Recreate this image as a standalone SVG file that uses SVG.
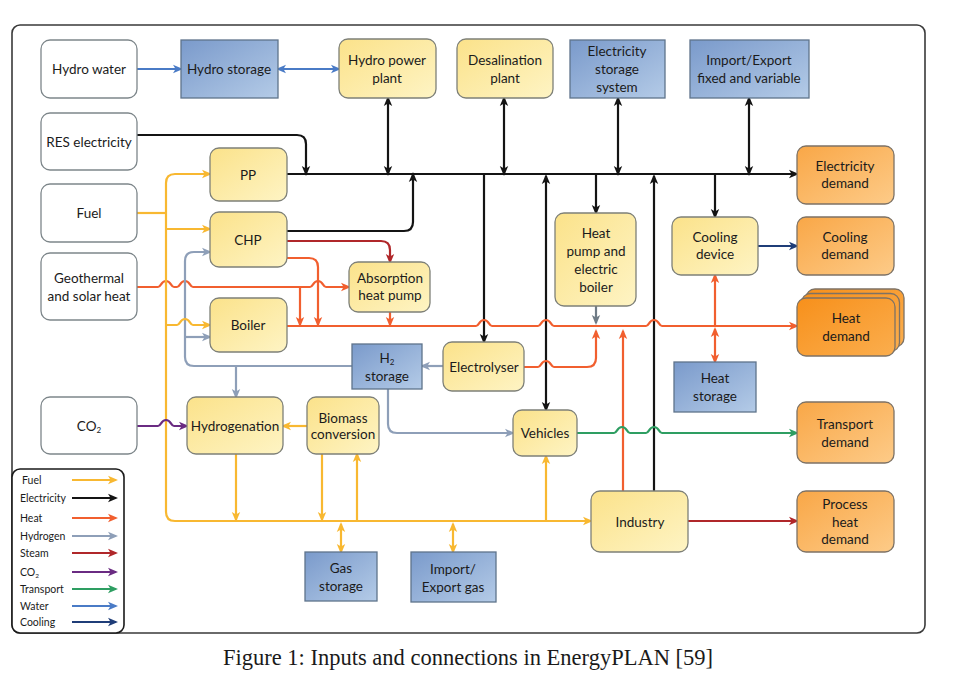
<svg xmlns="http://www.w3.org/2000/svg" width="957" height="680" viewBox="0 0 957 680">
<defs>
<style>
.n text, .lg text {font-family: Lato, "Open Sans", sans-serif; font-size: 13.5px; fill: #1b1b1b; text-anchor: middle;}
.w {fill: #fff; stroke: #7d868a; stroke-width: 1.3;}
.y {fill: url(#gy); stroke: #7e8078; stroke-width: 1.3;}
.b {fill: url(#gb); stroke: #5f738b; stroke-width: 1.3;}
.o {fill: url(#go); stroke: #7d7265; stroke-width: 1.3;}
.h {fill: url(#gh); stroke: #7d7265; stroke-width: 1.3;}
.c path {fill: none; stroke-width: 2.2; stroke-linejoin: round;}
.fu {stroke: #F8B831;}
.el {stroke: #141414;}
.he {stroke: #F15F2F;}
.hy {stroke: #8E9FB8;}
.st {stroke: #B0272A;}
.co {stroke: #6A2B82;}
.tr {stroke: #2E9E62;}
.wa {stroke: #4A7BC6;}
.cl {stroke: #1F3D78;}
.gr {stroke: #6F7B86;}
.lg text {font-size: 10.5px; text-anchor: start;}
</style>
<linearGradient id="gy" x1="0" y1="0" x2="1" y2="1"><stop offset="0" stop-color="#FBE28A"/><stop offset="1" stop-color="#FEF4C4"/></linearGradient>
<linearGradient id="gb" x1="0" y1="0" x2="1" y2="1"><stop offset="0" stop-color="#7A9ACB"/><stop offset="1" stop-color="#B4CBE7"/></linearGradient>
<linearGradient id="go" x1="0" y1="0" x2="1" y2="1"><stop offset="0" stop-color="#F9A747"/><stop offset="1" stop-color="#FDCB88"/></linearGradient>
<linearGradient id="gh" x1="0" y1="0" x2="1" y2="1"><stop offset="0" stop-color="#F7901B"/><stop offset="1" stop-color="#FBAE4E"/></linearGradient>
<marker id="mfu" viewBox="0 0 10 10" refX="8" refY="5" markerWidth="10" markerHeight="10" markerUnits="userSpaceOnUse" orient="auto-start-reverse"><path d="M0,0.8 L10,5 L0,9.2 L2.6,5 Z" fill="#F8B831"/></marker>
<marker id="mel" viewBox="0 0 10 10" refX="8" refY="5" markerWidth="10" markerHeight="10" markerUnits="userSpaceOnUse" orient="auto-start-reverse"><path d="M0,0.8 L10,5 L0,9.2 L2.6,5 Z" fill="#141414"/></marker>
<marker id="mhe" viewBox="0 0 10 10" refX="8" refY="5" markerWidth="10" markerHeight="10" markerUnits="userSpaceOnUse" orient="auto-start-reverse"><path d="M0,0.8 L10,5 L0,9.2 L2.6,5 Z" fill="#F15F2F"/></marker>
<marker id="mhy" viewBox="0 0 10 10" refX="8" refY="5" markerWidth="10" markerHeight="10" markerUnits="userSpaceOnUse" orient="auto-start-reverse"><path d="M0,0.8 L10,5 L0,9.2 L2.6,5 Z" fill="#8E9FB8"/></marker>
<marker id="mst" viewBox="0 0 10 10" refX="8" refY="5" markerWidth="10" markerHeight="10" markerUnits="userSpaceOnUse" orient="auto-start-reverse"><path d="M0,0.8 L10,5 L0,9.2 L2.6,5 Z" fill="#B0272A"/></marker>
<marker id="mco" viewBox="0 0 10 10" refX="8" refY="5" markerWidth="10" markerHeight="10" markerUnits="userSpaceOnUse" orient="auto-start-reverse"><path d="M0,0.8 L10,5 L0,9.2 L2.6,5 Z" fill="#6A2B82"/></marker>
<marker id="mtr" viewBox="0 0 10 10" refX="8" refY="5" markerWidth="10" markerHeight="10" markerUnits="userSpaceOnUse" orient="auto-start-reverse"><path d="M0,0.8 L10,5 L0,9.2 L2.6,5 Z" fill="#2E9E62"/></marker>
<marker id="mwa" viewBox="0 0 10 10" refX="8" refY="5" markerWidth="10" markerHeight="10" markerUnits="userSpaceOnUse" orient="auto-start-reverse"><path d="M0,0.8 L10,5 L0,9.2 L2.6,5 Z" fill="#4A7BC6"/></marker>
<marker id="mcl" viewBox="0 0 10 10" refX="8" refY="5" markerWidth="10" markerHeight="10" markerUnits="userSpaceOnUse" orient="auto-start-reverse"><path d="M0,0.8 L10,5 L0,9.2 L2.6,5 Z" fill="#1F3D78"/></marker>
<marker id="mgr" viewBox="0 0 10 10" refX="8" refY="5" markerWidth="10" markerHeight="10" markerUnits="userSpaceOnUse" orient="auto-start-reverse"><path d="M0,0.8 L10,5 L0,9.2 L2.6,5 Z" fill="#6F7B86"/></marker>
</defs>
<rect width="957" height="680" fill="#fff"/>
<rect id="frame" x="12" y="25" width="913" height="608" rx="8" fill="none" stroke="#3a3a3a" stroke-width="1.6"/>

<g id="connectors" class="c">
<!-- water -->
<path class="wa" d="M137,69 H181" marker-end="url(#mwa)"/>
<path class="wa" d="M278,69 H339" marker-start="url(#mwa)" marker-end="url(#mwa)"/>
<!-- electricity -->
<path class="el" d="M287,174 H797" marker-end="url(#mel)"/>
<path class="el" d="M137,135 H297 Q306,135 306,144 V174" marker-end="url(#mel)"/>
<path class="el" d="M287,231 H404 Q413,231 413,222 V174" marker-end="url(#mel)"/>
<path class="el" d="M388,98 V174" marker-start="url(#mel)" marker-end="url(#mel)"/>
<path class="el" d="M504,98 V174" marker-start="url(#mel)" marker-end="url(#mel)"/>
<path class="el" d="M618,98 V174" marker-start="url(#mel)" marker-end="url(#mel)"/>
<path class="el" d="M749,98 V174" marker-start="url(#mel)" marker-end="url(#mel)"/>
<path class="el" d="M596,174 V213" marker-end="url(#mel)"/>
<path class="el" d="M715,174 V217" marker-end="url(#mel)"/>
<path class="el" d="M484,174 V342" marker-end="url(#mel)"/>
<path class="el" d="M546,176 V410" marker-start="url(#mel)" marker-end="url(#mel)"/>
<path class="el" d="M654,491 V176" marker-end="url(#mel)"/>
<!-- steam -->
<path class="st" d="M287,241 H381 Q390,241 390,250 V262" marker-end="url(#mst)"/>
<path class="st" d="M688,521 H797" marker-end="url(#mst)"/>
<!-- heat -->
<path class="he" d="M287,258 H309 Q318,258 318,267 V325" marker-end="url(#mhe)"/>
<path class="he" d="M137,287 H158 C161,287 161,281 166,281 C171,281 171,287 174,287 H177 C180,287 180,281 185,281 C190,281 190,287 193,287 H310 C313,287 313,281 318,281 C323,281 323,287 326,287 H349" marker-end="url(#mhe)"/>
<path class="he" d="M300,287 V325" marker-end="url(#mhe)"/>
<path class="he" d="M287,326 H476 C479,326 479,320 484,320 C489,320 489,326 492,326 H538 C541,326 541,320 546,320 C551,320 551,326 554,326 H646 C649,326 649,320 654,320 C659,320 659,326 662,326 H797" marker-end="url(#mhe)"/>
<path class="he" d="M390,312 V325" marker-end="url(#mhe)"/>
<path class="gr" d="M596,306 V323" marker-end="url(#mgr)"/>
<path class="he" d="M524,367 H538 C541,367 541,361 546,361 C551,361 551,367 554,367 H587 Q596,367 596,358 V331" marker-end="url(#mhe)"/>
<path class="he" d="M623,491 V331" marker-end="url(#mhe)"/>
<path class="he" d="M715,326 V275" marker-end="url(#mhe)"/>
<path class="he" d="M715,329 V362" marker-start="url(#mhe)" marker-end="url(#mhe)"/>
<!-- hydrogen -->
<path class="hy" d="M352,366 H194 Q185,366 185,357 V261 Q185,252 194,252 H210" marker-end="url(#mhy)"/>
<path class="hy" d="M185,337 H210" marker-end="url(#mhy)"/>
<path class="hy" d="M236,366 V397" marker-end="url(#mhy)"/>
<path class="hy" d="M443,366 H422" marker-end="url(#mhy)"/>
<path class="hy" d="M388,389 V424 Q388,433 397,433 H513" marker-end="url(#mhy)"/>
<!-- fuel -->
<path class="fu" d="M137,213 H166"/>
<path class="fu" d="M166,213 V183 Q166,174 175,174 H210" marker-end="url(#mfu)"/>
<path class="fu" d="M166,213 V512 Q166,521 175,521 H591" marker-end="url(#mfu)"/>
<path class="fu" d="M166,229 H210" marker-end="url(#mfu)"/>
<path class="fu" d="M166,325 H177 C180,325 180,319 185,319 C190,319 190,325 193,325 H210" marker-end="url(#mfu)"/>
<path class="fu" d="M307,426 H283" marker-end="url(#mfu)"/>
<path class="fu" d="M236,454 V520" marker-end="url(#mfu)"/>
<path class="fu" d="M322,454 V520" marker-end="url(#mfu)"/>
<path class="fu" d="M357,521 V454" marker-end="url(#mfu)"/>
<path class="fu" d="M546,521 V456" marker-end="url(#mfu)"/>
<path class="fu" d="M341,524 V552" marker-start="url(#mfu)" marker-end="url(#mfu)"/>
<path class="fu" d="M453,524 V552" marker-start="url(#mfu)" marker-end="url(#mfu)"/>
<!-- CO2 -->
<path class="co" d="M137,426 H158 C161,426 161,420 166,420 C171,420 171,426 174,426 H187" marker-end="url(#mco)"/>
<!-- transport -->
<path class="tr" d="M577,433 H614 C617,433 617,427 622,427 C627,427 627,433 630,433 H646 C649,433 649,427 654,427 C659,427 659,433 662,433 H797" marker-end="url(#mtr)"/>
<!-- cooling -->
<path class="cl" d="M758,246 H797" marker-end="url(#mcl)"/>
</g>

<g class="n">
<g id="hydro-water"><rect class="w" x="41" y="40" width="96" height="58" rx="9"/><text x="89" y="74">Hydro water</text></g>
<g id="hydro-storage"><rect class="b" x="181" y="40" width="97" height="58"/><text x="229" y="74">Hydro storage</text></g>
<g id="hydro-power-plant"><rect class="y" x="339" y="39" width="97" height="59" rx="9"/><text x="387" y="65">Hydro power</text><text x="387" y="83">plant</text></g>
<g id="desalination-plant"><rect class="y" x="457" y="39" width="96" height="59" rx="9"/><text x="505" y="65">Desalination</text><text x="505" y="83">plant</text></g>
<g id="electricity-storage"><rect class="b" x="570" y="40" width="95" height="58"/><text x="617" y="56">Electricity</text><text x="617" y="74">storage</text><text x="617" y="92">system</text></g>
<g id="import-export"><rect class="b" x="690" y="40" width="119" height="58"/><text x="749" y="65">Import/Export</text><text x="749" y="83">fixed and variable</text></g>
<g id="res-electricity"><rect class="w" x="41" y="113" width="96" height="57" rx="9"/><text x="89" y="147">RES electricity</text></g>
<g id="fuel"><rect class="w" x="41" y="184" width="96" height="58" rx="9"/><text x="89" y="218">Fuel</text></g>
<g id="geothermal"><rect class="w" x="41" y="253" width="96" height="67" rx="9"/><text x="89" y="283">Geothermal</text><text x="89" y="301">and solar heat</text></g>
<g id="co2"><rect class="w" x="41" y="397" width="96" height="57" rx="9"/><text x="89" y="431">CO<tspan font-size="8" dy="2">2</tspan></text></g>
<g id="pp"><rect class="y" x="210" y="148" width="77" height="53" rx="9"/><text x="248" y="180">PP</text></g>
<g id="chp"><rect class="y" x="210" y="212" width="77" height="55" rx="9"/><text x="248" y="245">CHP</text></g>
<g id="boiler"><rect class="y" x="210" y="298" width="77" height="54" rx="9"/><text x="248" y="330">Boiler</text></g>
<g id="absorption-heat-pump"><rect class="y" x="349" y="262" width="81" height="50" rx="9"/><text x="390" y="283" font-size="12.5">Absorption</text><text x="390" y="300" font-size="12.5">heat pump</text></g>
<g id="heat-pump"><rect class="y" x="555" y="213" width="81" height="93" rx="9"/><text x="596" y="238">Heat</text><text x="596" y="256">pump and</text><text x="596" y="274">electric</text><text x="596" y="292">boiler</text></g>
<g id="cooling-device"><rect class="y" x="672" y="217" width="86" height="58" rx="9"/><text x="715" y="242">Cooling</text><text x="715" y="259">device</text></g>
<g id="electricity-demand"><rect class="o" x="797" y="146" width="97" height="58" rx="9"/><text x="845" y="171">Electricity</text><text x="845" y="188">demand</text></g>
<g id="cooling-demand"><rect class="o" x="797" y="217" width="97" height="58" rx="9"/><text x="845" y="242">Cooling</text><text x="845" y="259">demand</text></g>
<g id="heat-demand"><rect class="h" x="806" y="289" width="98" height="58" rx="9"/><rect class="h" x="801.5" y="293.5" width="98" height="58" rx="9"/><rect class="h" x="797" y="298" width="98" height="58" rx="9"/><text x="846" y="323">Heat</text><text x="846" y="341">demand</text></g>
<g id="heat-storage"><rect class="b" x="674" y="362" width="82" height="50"/><text x="715" y="383">Heat</text><text x="715" y="401">storage</text></g>
<g id="h2-storage"><rect class="b" x="352" y="344" width="70" height="45"/><text x="387" y="363">H<tspan font-size="8" dy="2">2</tspan></text><text x="387" y="381">storage</text></g>
<g id="electrolyser"><rect class="y" x="443" y="342" width="81" height="49" rx="9"/><text x="484" y="372">Electrolyser</text></g>
<g id="hydrogenation"><rect class="y" x="187" y="397" width="96" height="57" rx="9"/><text x="235" y="431">Hydrogenation</text></g>
<g id="biomass-conversion"><rect class="y" x="307" y="397" width="72" height="57" rx="9"/><text x="343" y="423" font-size="12.5">Biomass</text><text x="343" y="439" font-size="12.5">conversion</text></g>
<g id="vehicles"><rect class="y" x="513" y="410" width="64" height="46" rx="9"/><text x="545" y="438">Vehicles</text></g>
<g id="transport-demand"><rect class="o" x="797" y="402" width="97" height="61" rx="9"/><text x="845" y="429">Transport</text><text x="845" y="447">demand</text></g>
<g id="process-heat-demand"><rect class="o" x="797" y="491" width="97" height="61" rx="9"/><text x="845" y="509">Process</text><text x="845" y="527">heat</text><text x="845" y="544">demand</text></g>
<g id="industry"><rect class="y" x="591" y="491" width="97" height="61" rx="9"/><text x="640" y="527">Industry</text></g>
<g id="gas-storage"><rect class="b" x="305" y="552" width="72" height="49"/><text x="341" y="573">Gas</text><text x="341" y="591">storage</text></g>
<g id="import-export-gas"><rect class="b" x="411" y="552" width="85" height="50"/><text x="453" y="574">Import/</text><text x="453" y="592">Export gas</text></g>
</g>

<g id="legend" class="lg">
<rect x="12" y="469" width="112" height="164" rx="8" fill="#fff" stroke="#1a1a1a" stroke-width="1.6"/>
<g class="c">
<path class="fu" d="M72,480 H116" marker-end="url(#mfu)"/>
<path class="el" d="M72,498 H116" marker-end="url(#mel)"/>
<path class="he" d="M72,518 H116" marker-end="url(#mhe)"/>
<path class="hy" d="M72,536 H116" marker-end="url(#mhy)"/>
<path class="st" d="M72,553 H116" marker-end="url(#mst)"/>
<path class="co" d="M72,572 H116" marker-end="url(#mco)"/>
<path class="tr" d="M72,589 H116" marker-end="url(#mtr)"/>
<path class="wa" d="M72,606 H116" marker-end="url(#mwa)"/>
<path class="cl" d="M72,622 H116" marker-end="url(#mcl)"/>
</g>
<text x="22" y="484">Fuel</text>
<text x="20" y="502">Electricity</text>
<text x="20" y="522">Heat</text>
<text x="20" y="540">Hydrogen</text>
<text x="20" y="557">Steam</text>
<text x="20" y="576">CO<tspan font-size="6.5" dy="2">2</tspan></text>
<text x="20" y="593">Transport</text>
<text x="20" y="610">Water</text>
<text x="20" y="626">Cooling</text>
</g>

<text id="caption" x="468" y="665" font-family="'Liberation Serif', 'Times New Roman', serif" font-size="22.5" text-anchor="middle" fill="#1a1a1a">Figure 1: Inputs and connections in EnergyPLAN [59]</text>
</svg>
